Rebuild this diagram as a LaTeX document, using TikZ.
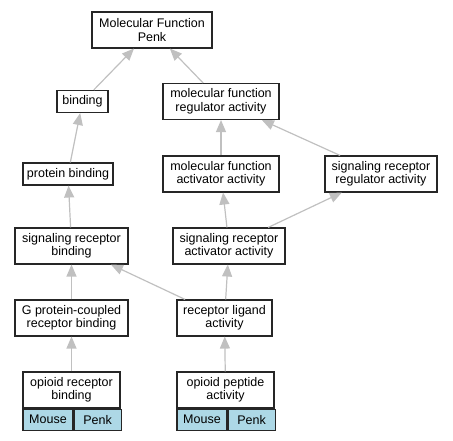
\documentclass[tikz,border=0pt]{standalone}
\usepackage{fontspec}
\setmainfont{Liberation Sans}
\usetikzlibrary{arrows.meta}
\usepackage{xcolor}
\definecolor{myedge}{HTML}{C0C0C0}
\definecolor{mycell}{HTML}{ADD8E6}

\begin{document}
\begin{tikzpicture}[x=1pt,y=1pt,>={Triangle[length=12pt,width=10pt]},
    term/.style={draw=black!85, line width=1.1pt, fill=white, align=center,
      inner sep=1pt, minimum height=36pt,
      font=\fontsize{12.5}{13.5}\selectfont},
    short/.style={term, minimum height=22pt},
    cell/.style={term, fill=mycell, minimum height=21pt, anchor=north west},
    isa/.style={->, draw=myedge, line width=1.2pt}]

      \useasboundingbox (0,0) rectangle (453,440);

      \pgfmathsetmacro{\topY}{410}
      \pgfmathsetmacro{\regY}{338.5}
      \pgfmathsetmacro{\actY}{266}
      \pgfmathsetmacro{\sigY}{194}
      \pgfmathsetmacro{\ligY}{122}
      \pgfmathsetmacro{\leafY}{50}

      % root
      \node [term, name=mfpenk, minimum width=120pt] at (152,\topY) {Molecular Function\\Penk};

      % regulator row
      \node [short, name=binding, minimum width=51pt] at (82.5,\regY) {binding};
      \node [term, name=mfreg, minimum width=116pt] at (221,\regY) {molecular function\\regulator activity};

      % activator row
      \node [short, name=protbind, minimum width=90pt] at (68,\actY) {protein binding};
      \node [term, name=mfact, minimum width=116pt] at (221,\actY) {molecular function\\activator activity};
      \node [term, name=srreg, minimum width=112pt] at (381,\actY) {signaling receptor\\regulator activity};

      % signaling row
      \node [term, name=srbind, minimum width=113pt] at (71.5,\sigY) {signaling receptor\\binding};
      \node [term, name=sract, minimum width=112pt] at (229,\sigY) {signaling receptor\\activator activity};

      % ligand row
      \node [term, name=gpcr, minimum width=113pt] at (71.5,\ligY) {G protein-coupled\\receptor binding};
      \node [term, name=ligand, minimum width=95pt] at (224.5,\ligY) {receptor ligand\\activity};

      % leaves
      \node [term, name=orbind, minimum width=97pt] at (71.5,\leafY) {opioid receptor\\binding};
      \node [cell, name=orm, minimum width=50pt] at (orbind.south west) {Mouse};
      \node [cell, name=orp, minimum width=47pt] at (orm.north east) {Penk};

      \node [term, name=opact, minimum width=97pt] at (225.5,\leafY) {opioid peptide\\activity};
      \node [cell, name=opm, minimum width=50pt] at (opact.south west) {Mouse};
      \node [cell, name=opp, minimum width=47pt] at (opm.north east) {Penk};

      % edges
      \draw [isa] (binding) -- (mfpenk);
      \draw [isa] (mfreg) -- (mfpenk);
      \draw [isa] (protbind) -- (binding);
      \draw [isa] (mfact) -- (mfreg);
      \draw [isa] (srreg) -- (mfreg);
      \draw [isa] (srbind) -- (protbind);
      \draw [isa] (sract) -- (mfact);
      \draw [isa] (sract) -- (srreg);
      \draw [isa] (gpcr) -- (srbind);
      \draw [isa] (ligand) -- (srbind);
      \draw [isa] (ligand) -- (sract);
      \draw [isa] (orbind) -- (gpcr);
      \draw [isa] (opact) -- (ligand);

\end{tikzpicture}
\end{document}
